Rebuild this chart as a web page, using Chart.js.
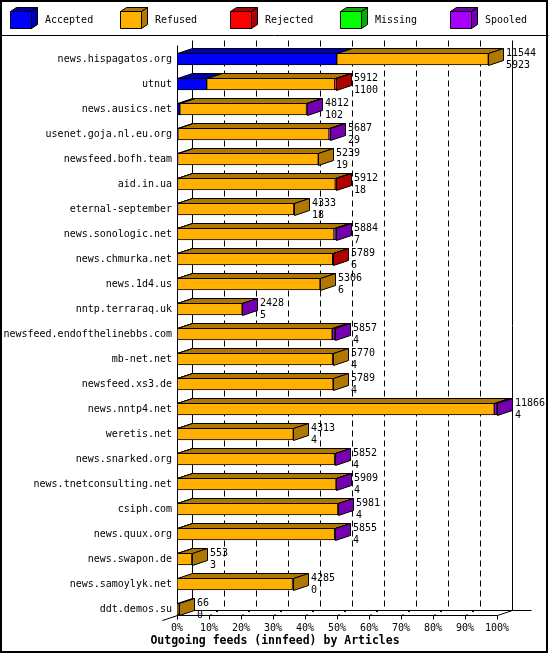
<!DOCTYPE html>
<html>
<head>
<meta charset="utf-8">
<script src="https://cdn.jsdelivr.net/npm/chart.js@4"></script>
<style>
body { margin: 0; background: #fff; }
#wrap { width: 550px; height: 655px; }
</style>
</head>
<body>
<div id="wrap"><canvas id="feedChart" width="550" height="655"></canvas></div>
<script>
// hosts, top to bottom
const hosts = ['news.hispagatos.org', 'utnut', 'news.ausics.net', 'usenet.goja.nl.eu.org',
	'newsfeed.bofh.team', 'aid.in.ua', 'eternal-september', 'news.sonologic.net',
	'news.chmurka.net', 'news.1d4.us', 'nntp.terraraq.uk', 'newsfeed.endofthelinebbs.com',
	'mb-net.net', 'newsfeed.xs3.de', 'news.nntp4.net', 'weretis.net', 'news.snarked.org',
	'news.tnetconsulting.net', 'csiph.com', 'news.quux.org', 'news.swapon.de',
	'news.samoylyk.net', 'ddt.demos.su'];

// numbers printed next to each bar
const offered = [11544, 5912, 4812, 5687, 5239, 5912, 4333, 5884, 5789, 5306, 2428, 5857,
	5770, 5789, 11866, 4313, 5852, 5909, 5981, 5855, 553, 4285, 66];
const accepted = [5923, 1100, 102, 29, 19, 18, 18, 7, 6, 6, 5, 4, 4, 4, 4, 4, 4, 4, 4, 4, 3, 0, 0];

// bar segments (articles)
const refused = [5621, 4752, 4700, 5608, 5220, 5854, 4315, 5817, 5768, 5300, 2413, 5753,
	5766, 5785, 11762, 4309, 5838, 5895, 5962, 5841, 550, 4285, 66];
const rejected = [0, 60, 0, 0, 0, 40, 0, 0, 15, 0, 0, 0, 0, 0, 0, 0, 0, 0, 0, 0, 0, 0, 0];
const missing = [0, 0, 0, 0, 0, 0, 0, 0, 0, 0, 0, 0, 0, 0, 0, 0, 0, 0, 0, 0, 0, 0, 0];
const spooled = [0, 0, 10, 50, 0, 0, 0, 60, 0, 0, 10, 100, 0, 0, 100, 0, 10, 10, 15, 10, 0, 0, 0];

const seriesNames = ['Accepted', 'Refused', 'Rejected', 'Missing', 'Spooled'];
const seriesData = [accepted, refused, rejected, missing, spooled];
const frontColors = ['#0000ff', '#ffb000', '#ff0000', '#00ff00', '#a800ff'];
const darkColors = ['#0000b0', '#b07800', '#b00000', '#00b000', '#7400b0'];

const DX = 15, DY = 5; // 3d depth
const FONT = '"DejaVu Sans Mono", "Liberation Mono", monospace';
const maxArticles = Math.max(...offered);

function poly(ctx, pts, fill) {
	ctx.beginPath();
	pts.forEach((p, i) => {
		const x = Math.round(p[0]) + 0.5, y = Math.round(p[1]) + 0.5;
		if (i === 0) ctx.moveTo(x, y); else ctx.lineTo(x, y);
	});
	ctx.closePath();
	ctx.fillStyle = fill;
	ctx.fill();
	ctx.stroke();
}

function line(ctx, x1, y1, x2, y2) {
	ctx.beginPath();
	ctx.moveTo(Math.round(x1) + 0.5, Math.round(y1) + 0.5);
	ctx.lineTo(Math.round(x2) + 0.5, Math.round(y2) + 0.5);
	ctx.stroke();
}

const innfeed3d = {
	id: 'innfeed3d',
	beforeDraw(chart) {
		const ctx = chart.ctx;
		ctx.save();
		ctx.strokeStyle = '#000';
		ctx.lineWidth = 2;
		ctx.strokeRect(1, 1, 546, 651);
		ctx.lineWidth = 1;
		line(ctx, 0, 35, 548, 35);

		// legend with little cubes
		ctx.font = '10px ' + FONT;
		ctx.textBaseline = 'middle';
		ctx.textAlign = 'left';
		seriesNames.forEach((name, k) => {
			const cx = 10 + 110 * k;
			poly(ctx, [[cx, 11], [cx + 21, 11], [cx + 21, 28], [cx, 28]], frontColors[k]);
			poly(ctx, [[cx, 11], [cx + 6, 7], [cx + 27, 7], [cx + 21, 11]], darkColors[k]);
			poly(ctx, [[cx + 21, 11], [cx + 27, 7], [cx + 27, 24], [cx + 21, 28]], darkColors[k]);
			ctx.fillStyle = '#000';
			ctx.fillText(name, cx + 35, 20);
		});
		ctx.restore();
	},
	beforeDatasetsDraw(chart) {
		const ctx = chart.ctx;
		const x = chart.scales.x;
		const area = chart.chartArea;
		const backTop = area.top - 6.5;
		const floorFront = area.bottom - 6.5;
		const floorBack = floorFront - DY;
		const x0 = x.getPixelForValue(0);
		const x100 = x.getPixelForValue(maxArticles);

		ctx.save();
		ctx.strokeStyle = '#000';
		ctx.lineWidth = 1;
		// back wall grid
		ctx.setLineDash([6, 4]);
		for (let k = 1; k < 10; k++) {
			const xb = x.getPixelForValue(maxArticles * k / 10) + DX;
			line(ctx, xb, backTop, xb, floorBack);
		}
		ctx.setLineDash([]);
		line(ctx, x0 + DX, backTop, x0 + DX, floorBack);
		line(ctx, x100 + DX, backTop, x100 + DX, floorBack);
		// front axis and floor
		line(ctx, x0, backTop + DY, x0, floorFront);
		line(ctx, x0, floorFront, x100, floorFront);
		line(ctx, x0 + DX, floorBack, x100 + DX + 19, floorBack);
		line(ctx, x0, floorFront, x0 - DX, floorFront + DY);
		line(ctx, x100, floorFront, x100 + DX, floorBack);
		for (let k = 0; k <= 10; k++) {
			const xf = x.getPixelForValue(maxArticles * k / 10);
			line(ctx, xf, floorFront, xf, floorFront + 4);
			if (k > 0 && k < 10) {
				line(ctx, xf, floorFront, xf + 2, floorFront - 1);
				ctx.fillStyle = '#000';
				ctx.fillRect(Math.round(xf) + 7, floorBack, 2, 2);
			}
		}
		ctx.restore();
	},
	afterDatasetsDraw(chart) {
		const ctx = chart.ctx;
		ctx.save();
		ctx.strokeStyle = '#000';
		ctx.lineWidth = 1;
		const rowEnd = [];
		chart.data.datasets.forEach((ds, d) => {
			const meta = chart.getDatasetMeta(d);
			meta.data.forEach((bar, i) => {
				if (!ds.data[i]) return;
				const p = bar.getProps(['x', 'y', 'base', 'height'], true);
				const left = Math.min(p.x, p.base), right = Math.max(p.x, p.base);
				const top = p.y - p.height / 2;
				poly(ctx, [[left, top], [left + DX, top - DY], [right + DX, top - DY], [right, top]], darkColors[d]);
				rowEnd[i] = { x: right, y: p.y, top: top, bottom: p.y + p.height / 2, d: d };
			});
		});
		ctx.font = '10px ' + FONT;
		ctx.textBaseline = 'middle';
		ctx.textAlign = 'left';
		rowEnd.forEach((r, i) => {
			if (!r) return;
			poly(ctx, [[r.x, r.top], [r.x + DX, r.top - DY], [r.x + DX, r.bottom - DY], [r.x, r.bottom]], darkColors[r.d]);
			ctx.fillStyle = '#000';
			ctx.fillText(String(offered[i]), Math.round(r.x) + DX + 3, r.y - 6);
			ctx.fillText(String(accepted[i]), Math.round(r.x) + DX + 3, r.y + 6);
		});
		ctx.restore();
	}
};

new Chart(document.getElementById('feedChart'), {
	type: 'bar',
	data: {
		labels: hosts,
		datasets: seriesNames.map((name, k) => ({
			label: name,
			data: seriesData[k],
			backgroundColor: frontColors[k],
			borderColor: '#000',
			borderWidth: 1,
			borderSkipped: false,
			barThickness: 12
		}))
	},
	options: {
		indexAxis: 'y',
		responsive: false,
		devicePixelRatio: 1,
		animation: false,
		layout: { padding: { top: 46.5, left: 0, right: 0, bottom: 0 } },
		plugins: {
			legend: { display: false },
			tooltip: { enabled: false },
			title: {
				display: true,
				position: 'bottom',
				text: 'Outgoing feeds (innfeed) by Articles',
				color: '#000',
				font: { family: FONT, size: 11.5, weight: 'bold', lineHeight: 1.2 },
				padding: { top: 0, bottom: 7 }
			}
		},
		scales: {
			x: {
				stacked: true,
				min: 0,
				max: maxArticles,
				grid: { display: false, drawTicks: false },
				border: { display: false },
				afterBuildTicks(s) {
					s.ticks = [0, 1, 2, 3, 4, 5, 6, 7, 8, 9, 10].map(k => ({ value: maxArticles * k / 10 }));
				},
				afterFit(s) { s.height = 12.7; },
				ticks: {
					autoSkip: false,
					maxRotation: 0,
					padding: 1,
					color: '#000',
					font: { family: FONT, size: 10 },
					callback: v => Math.round(v * 100 / maxArticles) + '%'
				}
			},
			y: {
				stacked: true,
				grid: { display: false, drawTicks: false },
				border: { display: false },
				afterFit(s) { s.width = 177; },
				ticks: {
					autoSkip: false,
					padding: 5,
					color: '#000',
					font: { family: FONT, size: 10 }
				}
			},
			yRight: {
				type: 'linear',
				position: 'right',
				grid: { display: false, drawTicks: false },
				border: { display: false },
				ticks: { display: false },
				afterFit(s) { s.width = 53; }
			}
		}
	},
	plugins: [innfeed3d]
});
</script>
</body>
</html>
